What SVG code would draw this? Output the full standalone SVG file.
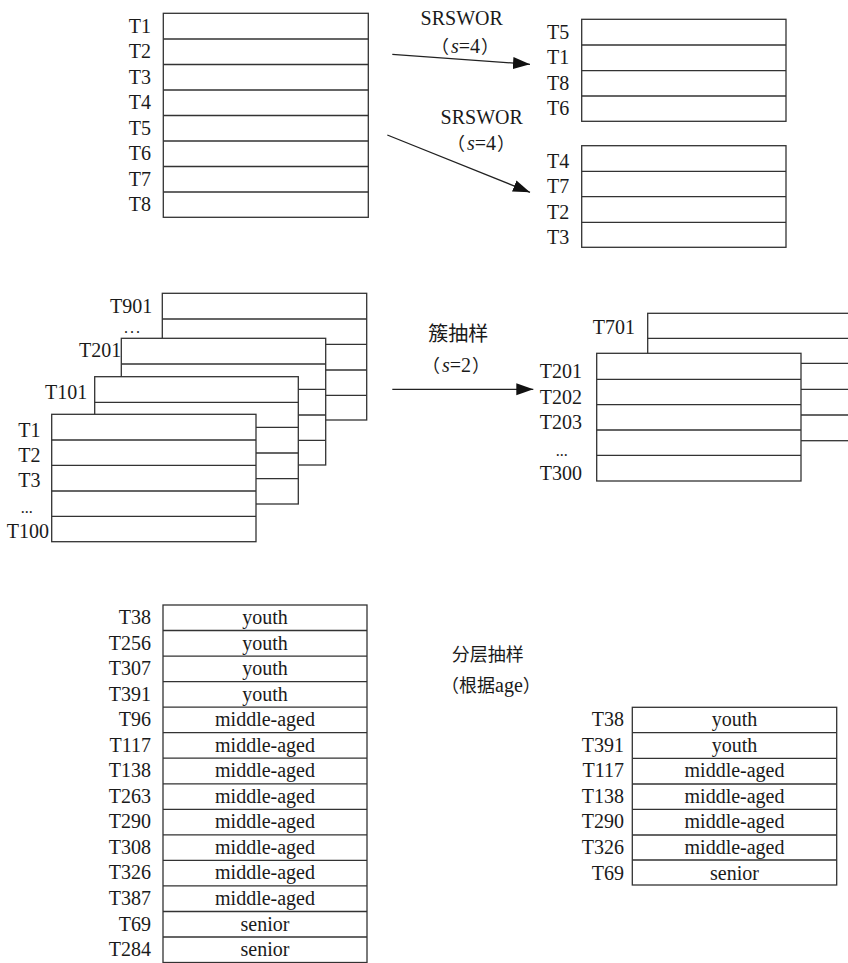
<svg xmlns="http://www.w3.org/2000/svg" width="848" height="963" viewBox="0 0 848 963">
<style>
.t{fill:#fff;stroke:#333;stroke-width:1.3}
.l{fill:none;stroke:#333;stroke-width:1.3}
text{font-family:'Liberation Serif','Times New Roman',Tinos,'DejaVu Serif',serif;font-size:20px;fill:#1a1a1a}
.e{text-anchor:end}
.m{text-anchor:middle}
.k{font-family:'Noto Sans CJK SC','Noto Sans CJK JP',sans-serif}
.c18{font-size:18px}
.d{font-size:16px}
.c{stroke:#222;stroke-width:1.3;fill:none}
</style>
<defs>
<marker id="ah" markerUnits="userSpaceOnUse" markerWidth="18" markerHeight="13" refX="17" refY="6" orient="auto">
<path d="M0,0 L17,6 L0,12 z" fill="#111"/>
</marker>
</defs>
<rect width="848" height="963" fill="#fff"/>

<g id="table-srs-source">
<rect class="t" x="163.3" y="13.3" width="205" height="204"/>
<path class="l" d="M163.3,39H368.3M163.3,64.5H368.3M163.3,90H368.3M163.3,115.5H368.3M163.3,141H368.3M163.3,166.5H368.3M163.3,192H368.3"/>
<text class="e" x="151" y="32.5">T1</text>
<text class="e" x="151" y="58">T2</text>
<text class="e" x="151" y="83.5">T3</text>
<text class="e" x="151" y="109">T4</text>
<text class="e" x="151" y="134.5">T5</text>
<text class="e" x="151" y="160">T6</text>
<text class="e" x="151" y="185.5">T7</text>
<text class="e" x="151" y="211">T8</text>
</g>

<g id="table-srswor-a">
<rect class="t" x="581.7" y="19.3" width="204.3" height="102"/>
<path class="l" d="M581.7,45H786M581.7,70.7H786M581.7,96H786"/>
<text class="e" x="569.3" y="39">T5</text>
<text class="e" x="569.3" y="64.3">T1</text>
<text class="e" x="569.3" y="90">T8</text>
<text class="e" x="569.3" y="115">T6</text>
</g>

<g id="table-srswor-b">
<rect class="t" x="581.7" y="145.7" width="204.3" height="101.6"/>
<path class="l" d="M581.7,171.3H786M581.7,196.7H786M581.7,222.3H786"/>
<text class="e" x="569.3" y="168.3">T4</text>
<text class="e" x="569.3" y="193.3">T7</text>
<text class="e" x="569.3" y="219">T2</text>
<text class="e" x="569.3" y="244">T3</text>
</g>

<g id="label-srswor-1">
<text class="m" x="461.7" y="25">SRSWOR</text>
<text x="431" y="53"><tspan class="k c18">（</tspan><tspan font-style="italic" dx="2">s</tspan>=4<tspan class="k c18" dx="1">）</tspan></text>
</g>
<g id="label-srswor-2">
<text class="m" x="481.7" y="123.5">SRSWOR</text>
<text x="447" y="150"><tspan class="k c18">（</tspan><tspan font-style="italic" dx="2">s</tspan>=4<tspan class="k c18" dx="1">）</tspan></text>
</g>

<g id="cluster-source">
<rect class="t" x="162.3" y="293.3" width="204.4" height="126.7"/>
<path class="l" d="M162.3,319H366.7M162.3,344.3H366.7M162.3,370H366.7M162.3,395.3H366.7"/>
<rect class="t" x="121.3" y="338.3" width="204.4" height="126.7"/>
<path class="l" d="M121.3,364H325.7M121.3,389.3H325.7M121.3,415H325.7M121.3,440.3H325.7"/>
<rect class="t" x="94.7" y="376.7" width="203.6" height="127.3"/>
<path class="l" d="M94.7,402.3H298.3M94.7,427.3H298.3M94.7,453H298.3M94.7,478.7H298.3"/>
<rect class="t" x="51.7" y="414.3" width="204.3" height="127.4"/>
<path class="l" d="M51.7,440H256M51.7,465.3H256M51.7,491H256M51.7,516.3H256"/>
<text x="110" y="313.3">T901</text>
<text class="d" x="124" y="332.7" letter-spacing="2">...</text>
<text x="79" y="357.3">T201</text>
<text x="45" y="399">T101</text>
<text x="18.3" y="436.7">T1</text>
<text x="18.3" y="462.3">T2</text>
<text x="18.3" y="487.3">T3</text>
<text class="d" x="20.7" y="513">...</text>
<text x="6.7" y="538.3">T100</text>
</g>

<g id="label-cluster">
<text class="m k" x="458.3" y="341">簇抽样</text>
<text x="422" y="372"><tspan class="k c18">（</tspan><tspan font-style="italic" dx="2">s</tspan>=2<tspan class="k c18" dx="1">）</tspan></text>
</g>

<g id="cluster-sample">
<rect class="t" x="647.7" y="313.3" width="204.3" height="127.4"/>
<path class="l" d="M647.7,338.3H852M647.7,363.3H852M647.7,389.3H852M647.7,415H852"/>
<rect class="t" x="596.7" y="353.3" width="204.3" height="127.7"/>
<path class="l" d="M596.7,379.3H801M596.7,404.7H801M596.7,430H801M596.7,455.3H801"/>
<text class="e" x="635" y="334.3">T701</text>
<text class="e" x="582" y="378.3">T201</text>
<text class="e" x="582" y="404">T202</text>
<text class="e" x="582" y="429.3">T203</text>
<text class="d" x="555.7" y="456">...</text>
<text class="e" x="582" y="480">T300</text>
</g>

<g id="strat-source">
<rect class="t" x="163" y="605" width="204" height="357.5"/>
<path class="l" d="M163,630.5H367M163,656.1H367M163,681.6H367M163,707.2H367M163,732.7H367M163,758.2H367M163,783.8H367M163,809.3H367M163,834.9H367M163,860.4H367M163,885.9H367M163,911.5H367M163,937H367"/>
<text class="e" x="151" y="624">T38</text>
<text class="e" x="151" y="649.5">T256</text>
<text class="e" x="151" y="675.1">T307</text>
<text class="e" x="151" y="700.6">T391</text>
<text class="e" x="151" y="726.2">T96</text>
<text class="e" x="151" y="751.7">T117</text>
<text class="e" x="151" y="777.2">T138</text>
<text class="e" x="151" y="802.8">T263</text>
<text class="e" x="151" y="828.3">T290</text>
<text class="e" x="151" y="853.9">T308</text>
<text class="e" x="151" y="879.4">T326</text>
<text class="e" x="151" y="904.9">T387</text>
<text class="e" x="151" y="930.5">T69</text>
<text class="e" x="151" y="956">T284</text>
<text class="m" x="265" y="624">youth</text>
<text class="m" x="265" y="649.5">youth</text>
<text class="m" x="265" y="675.1">youth</text>
<text class="m" x="265" y="700.6">youth</text>
<text class="m" x="265" y="726.2">middle-aged</text>
<text class="m" x="265" y="751.7">middle-aged</text>
<text class="m" x="265" y="777.2">middle-aged</text>
<text class="m" x="265" y="802.8">middle-aged</text>
<text class="m" x="265" y="828.3">middle-aged</text>
<text class="m" x="265" y="853.9">middle-aged</text>
<text class="m" x="265" y="879.4">middle-aged</text>
<text class="m" x="265" y="904.9">middle-aged</text>
<text class="m" x="265" y="930.5">senior</text>
<text class="m" x="265" y="956">senior</text>
</g>

<g id="label-strat">
<text class="m k c18" x="487.7" y="661">分层抽样</text>
<text x="441" y="692"><tspan class="k c18">（根据</tspan>age<tspan class="k c18">）</tspan></text>
</g>

<g id="strat-sample">
<rect class="t" x="632.3" y="707.3" width="204.4" height="177.7"/>
<path class="l" d="M632.3,732.7H836.7M632.3,758.3H836.7M632.3,784H836.7M632.3,809.3H836.7M632.3,835H836.7M632.3,860H836.7"/>
<text class="e" x="624" y="726">T38</text>
<text class="e" x="624" y="751.6">T391</text>
<text class="e" x="624" y="777.2">T117</text>
<text class="e" x="624" y="802.8">T138</text>
<text class="e" x="624" y="828.4">T290</text>
<text class="e" x="624" y="854">T326</text>
<text class="e" x="624" y="879.5">T69</text>
<text class="m" x="734.5" y="726">youth</text>
<text class="m" x="734.5" y="751.6">youth</text>
<text class="m" x="734.5" y="777.2">middle-aged</text>
<text class="m" x="734.5" y="802.8">middle-aged</text>
<text class="m" x="734.5" y="828.4">middle-aged</text>
<text class="m" x="734.5" y="854">middle-aged</text>
<text class="m" x="734.5" y="879.5">senior</text>
</g>

<g id="connectors">
<line class="c" x1="392.3" y1="54.3" x2="530" y2="64.3" marker-end="url(#ah)"/>
<line class="c" x1="387.3" y1="135" x2="530" y2="192.3" marker-end="url(#ah)"/>
<line class="c" x1="392.3" y1="389.3" x2="533.3" y2="389.3" marker-end="url(#ah)"/>
</g>
</svg>
